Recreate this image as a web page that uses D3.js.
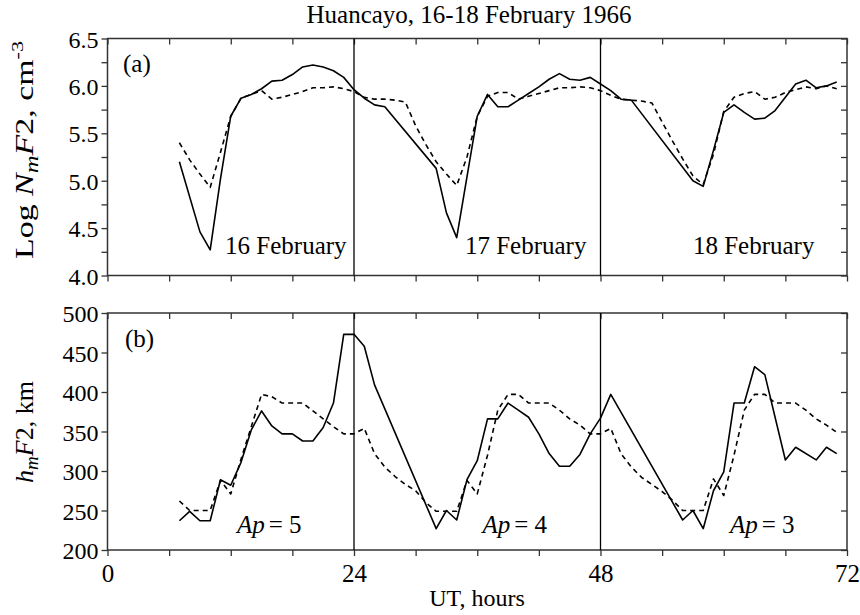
<!DOCTYPE html>
<html>
<head>
<meta charset="utf-8">
<script src="https://cdn.jsdelivr.net/npm/d3@7"></script>
<style>
  body { margin: 0; background: #fff; }
  svg text { font-family: "Liberation Serif", "DejaVu Serif", serif !important; fill: #000; }
</style>
</head>
<body>
<svg id="chart" width="860" height="615" font-family="Liberation Serif, serif"></svg>
<script>
// ---- data -------------------------------------------------------------
const hourTicks = d3.range(0, 73, 6);
const hourLabels = [0, 24, 48, 72];
const dayBoundaries = [24, 48];
const dayNames = ["16 February", "17 February", "18 February"];
const apValues = [5, 4, 3];
const nmTicks = d3.range(4.0, 6.51, 0.25);
const nmLabels = [4.0, 4.5, 5.0, 5.5, 6.0, 6.5];
const hmTicks = [200, 250, 300, 350, 400, 450, 500];

// log NmF2, solid curve [UT hour, value]
const nmObserved = [
  [7,5.20],[9,4.46],[10,4.27],[11,5.02],[12,5.68],[13,5.87],[14,5.91],[15,5.97],
  [16,6.05],[17,6.06],[18,6.12],[19,6.20],[20,6.22],[21,6.20],[22,6.16],[23,6.09],
  [24,5.96],[25,5.87],[26,5.80],[27,5.78],[32,5.13],[33,4.66],[34,4.40],[35,5.04],
  [36,5.68],[37,5.91],[38,5.78],[39,5.78],[40,5.85],[41,5.92],[42,5.99],[43,6.07],
  [44,6.13],[45,6.07],[46,6.06],[47,6.09],[48,6.02],[49,5.95],[50,5.86],[51,5.85],
  [57,5.00],[58,4.94],[59,5.32],[60,5.72],[61,5.80],[62,5.72],[63,5.65],[64,5.66],
  [65,5.74],[66,5.88],[67,6.02],[68,6.06],[69,5.98],[70,6.00],[71,6.04]
];
// log NmF2, dashed curve
const nmMedian = [
  [7,5.40],[8,5.22],[9,5.07],[10,4.93],[11,5.30],[12,5.68],[13,5.87],[14,5.91],
  [15,5.95],[16,5.86],[17,5.88],[18,5.91],[19,5.94],[20,5.98],[21,5.98],[22,5.99],
  [23,5.97],[24,5.94],[25,5.88],[26,5.86],[27,5.86],[28,5.85],[29,5.83],[30,5.58],
  [31,5.38],[32,5.20],[33,5.07],[34,4.95],[35,5.25],[36,5.68],[37,5.89],[38,5.93],
  [39,5.93],[40,5.86],[41,5.89],[42,5.92],[43,5.95],[44,5.98],[45,5.98],[46,5.99],
  [47,5.98],[48,5.95],[49,5.90],[50,5.86],[51,5.85],[52,5.84],[53,5.82],[54,5.62],
  [55,5.42],[56,5.23],[57,5.05],[58,4.96],[59,5.28],[60,5.73],[61,5.88],[62,5.92],
  [63,5.94],[64,5.86],[65,5.88],[66,5.93],[67,5.96],[68,5.99],[69,5.97],[70,6.00],
  [71,5.97]
];
// hmF2 (km), solid curve
const hmObserved = [
  [7,237],[8,249],[9,237],[10,237],[11,289],[12,282],[13,311],[14,352],[15,376],
  [16,357],[17,347],[18,347],[19,338],[20,338],[21,355],[22,386],[23,473],[24,473],
  [25,458],[26,409],[32,227],[33,250],[34,238],[35,289],[36,313],[37,366],[38,366],
  [39,386],[40,377],[41,368],[42,347],[43,322],[44,306],[45,306],[46,321],[47,347],
  [48,367],[49,397],[56,238],[57,250],[58,227],[59,275],[60,299],[61,386],[62,386],
  [63,432],[64,422],[66,314],[67,330],[69,314],[70,330],[71,322]
];
// hmF2 (km), dashed curve
const hmMedian = [
  [7,262],[8,250],[9,250],[10,250],[11,288],[12,271],[13,315],[14,356],[15,397],
  [16,394],[17,386],[18,386],[19,386],[20,376],[21,366],[22,356],[23,347],[24,347],
  [25,354],[26,322],[27,305],[28,293],[29,283],[30,275],[31,260],[32,249],[33,249],
  [34,249],[35,288],[36,271],[37,320],[38,377],[39,397],[40,397],[41,386],[42,386],
  [43,386],[44,377],[45,366],[46,358],[47,347],[48,347],[49,354],[50,322],[51,305],
  [52,292],[53,283],[54,274],[55,263],[56,250],[57,250],[58,250],[59,290],[60,269],
  [61,320],[62,377],[63,397],[64,397],[65,386],[66,386],[67,386],[68,377],[69,366],
  [70,358],[71,349]
];

// ---- layout -----------------------------------------------------------
const svg = d3.select("#chart");
const serif = '"Liberation Serif", "DejaVu Serif", serif';
const left = 107.5, right = 847;
const panelA = { top: 38.5, bottom: 275.5 };
const panelB = { top: 313, bottom: 550 };
const dayLabelHour = [11.45, 34.8, 57.0];
const apLabelHour = [12.6, 36.5, 60.6];
const axisColor = "#333";

const x = d3.scaleLinear().domain([0, 72]).range([left, right]);
const yA = d3.scaleLinear().domain([4.0, 6.5]).range([panelA.bottom, panelA.top]);
const yB = d3.scaleLinear().domain([200, 500]).range([panelB.bottom, panelB.top]);

function styleAxis(g) {
  g.attr("font-family", serif);
  g.select(".domain").remove();
  g.selectAll(".tick line").attr("stroke", axisColor).attr("stroke-width", 1.3);
  g.selectAll(".tick text").attr("fill", "#000").attr("font-family", serif);
}

function drawPanel(p, y, yTicks, yLabelSet, yFormat, showX) {
  // horizontal ticks along the top and bottom, all pointing downward
  svg.append("g").attr("transform", `translate(0,${p.top})`)
    .call(d3.axisTop(x).tickValues(hourTicks).tickSizeInner(-6).tickSizeOuter(0).tickFormat(""))
    .call(styleAxis);
  const bottom = svg.append("g").attr("transform", `translate(0,${p.bottom})`)
    .call(d3.axisBottom(x).tickValues(hourTicks).tickSizeInner(6).tickSizeOuter(0).tickPadding(8)
      .tickFormat(d => showX && hourLabels.includes(d) ? d : ""))
    .call(styleAxis);
  bottom.attr("font-size", 25);

  // vertical ticks on both sides, all pointing left
  const yl = svg.append("g").attr("transform", `translate(${left},0)`)
    .call(d3.axisLeft(y).tickValues(yTicks).tickSizeInner(6).tickSizeOuter(0).tickPadding(3)
      .tickFormat(d => yLabelSet.some(v => Math.abs(v - d) < 1e-9) ? yFormat(d) : ""))
    .call(styleAxis);
  yl.attr("font-size", 24);
  yl.selectAll(".tick text").attr("dy", "0.36em");
  svg.append("g").attr("transform", `translate(${right},0)`)
    .call(d3.axisRight(y).tickValues(yTicks).tickSizeInner(-6).tickSizeOuter(0).tickFormat(""))
    .call(styleAxis);

  // frame
  svg.append("rect")
    .attr("x", left).attr("y", p.top)
    .attr("width", right - left).attr("height", p.bottom - p.top)
    .attr("fill", "none").attr("stroke", axisColor).attr("stroke-width", 1.5);

  // day boundaries
  svg.selectAll(null).data(dayBoundaries).enter().append("line")
    .attr("x1", d => x(d)).attr("x2", d => x(d))
    .attr("y1", p.top).attr("y2", p.bottom)
    .attr("stroke", "#000").attr("stroke-width", 1.3);
}

drawPanel(panelA, yA, nmTicks, nmLabels, d3.format(".1f"), false);
drawPanel(panelB, yB, hmTicks, hmTicks, d3.format("d"), true);

// curves
function drawCurve(data, y, dashed) {
  svg.append("path")
    .datum(data)
    .attr("fill", "none")
    .attr("stroke", "#000")
    .attr("stroke-width", 1.6)
    .attr("stroke-linejoin", "round")
    .attr("stroke-dasharray", dashed ? "5,4" : null)
    .attr("d", d3.line().x(d => x(d[0])).y(d => y(d[1])));
}
drawCurve(nmMedian, yA, true);
drawCurve(nmObserved, yA, false);
drawCurve(hmMedian, yB, true);
drawCurve(hmObserved, yB, false);

function label(xp, yp, size) {
  return svg.append("text").attr("x", xp).attr("y", yp)
    .attr("font-family", serif).attr("font-size", size);
}

// title
label(469, 23, 25).attr("text-anchor", "middle").text("Huancayo, 16-18 February 1966");

// panel tags
label(123, 72, 25).text("(a)");
label(125, 347, 25).text("(b)");

// day names
svg.selectAll(null).data(dayNames).enter().append("text")
  .attr("x", (d, i) => x(dayLabelHour[i]))
  .attr("y", 254)
  .attr("font-family", serif)
  .attr("font-size", 25)
  .text(d => d);

// Ap index per day
const ap = svg.selectAll(null).data(apValues).enter().append("text")
  .attr("x", (d, i) => x(apLabelHour[i]))
  .attr("y", 533)
  .attr("font-family", serif)
  .attr("font-size", 25);
ap.append("tspan").attr("font-style", "italic").text("Ap");
ap.append("tspan").attr("dx", 4).text(d => "= " + d);

// x axis title
label(477, 606, 24).attr("text-anchor", "middle").text("UT, hours");

// y axis titles
const ylA = svg.append("text")
  .attr("transform", "translate(33,150) rotate(-90)")
  .attr("text-anchor", "middle")
  .attr("font-family", serif)
  .attr("font-size", 26)
  .attr("textLength", 218)
  .attr("lengthAdjust", "spacingAndGlyphs");
ylA.append("tspan").text("Log ");
ylA.append("tspan").attr("font-style", "italic").text("N");
ylA.append("tspan").attr("font-style", "italic").attr("font-size", 19).attr("dy", 5).text("m");
ylA.append("tspan").attr("font-style", "italic").attr("dy", -5).text("F");
ylA.append("tspan").text("2, cm");
ylA.append("tspan").attr("font-size", 17).attr("dy", -10).text("-3");

const ylB = svg.append("text")
  .attr("transform", "translate(33,432) rotate(-90)")
  .attr("text-anchor", "middle")
  .attr("font-family", serif)
  .attr("font-size", 26);
ylB.append("tspan").attr("font-style", "italic").text("h");
ylB.append("tspan").attr("font-style", "italic").attr("font-size", 19).attr("dy", 5).text("m");
ylB.append("tspan").attr("font-style", "italic").attr("dy", -5).text("F");
ylB.append("tspan").text("2, km");
</script>
</body>
</html>
